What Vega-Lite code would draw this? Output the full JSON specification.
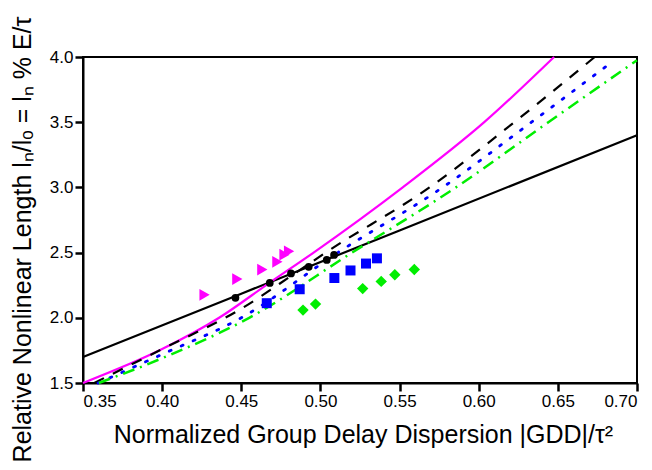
{
  "$schema": "https://vega.github.io/schema/vega-lite/v6.json",
  "width": 554,
  "height": 326,
  "autosize": "none",
  "padding": {"left": 83, "top": 57, "right": 15, "bottom": 87},
  "background": "white",
  "view": {"stroke": "black", "strokeWidth": 2},
  "config": {
    "font": "Liberation Sans",
    "axis": {
      "grid": false,
      "domainColor": "black",
      "domainWidth": 2,
      "labelColor": "black",
      "labelFont": "Liberation Sans",
      "labelFontSize": 17,
      "titleColor": "black",
      "titleFont": "Liberation Sans",
      "titleFontSize": 25,
      "titleFontWeight": "normal",
      "ticks": true,
      "tickColor": "#000000",
      "tickSize": 8,
      "tickWidth": 2.5
    }
  },
  "encoding": {
    "x": {
      "field": "x", "type": "quantitative",
      "scale": {"domain": [0.35, 0.70], "nice": false, "zero": false},
      "axis": {"tickCount": 8, "format": ".2f", "labelPadding": 2, "title": "Normalized Group Delay Dispersion |GDD|/τ²", "titlePadding": 13, "titleX": 280}
    },
    "y": {
      "field": "y", "type": "quantitative",
      "scale": {"domain": [1.5, 4.0], "nice": false, "zero": false},
      "axis": {"tickCount": 6, "format": ".1f", "labelPadding": 2, "title": "Relative Nonlinear Length lₙ/lₒ = lₙ % E/τ", "titlePadding": 14, "titleY": 182}
    }
  },
  "layer": [
    {
      "data": {"values": [
        {"x": 0.35, "y": 1.70}, {"x": 0.45, "y": 2.185}, {"x": 0.55, "y": 2.67}, {"x": 0.70, "y": 3.40}
      ]},
      "mark": {"type": "line", "color": "black", "strokeWidth": 2.2}
    },
    {
      "data": {"values": [
        {"x": 0.35, "y": 1.50}, {"x": 0.40, "y": 1.76}, {"x": 0.436, "y": 2.0}, {"x": 0.468, "y": 2.27},
        {"x": 0.4957, "y": 2.5}, {"x": 0.552, "y": 3.0}, {"x": 0.6035, "y": 3.5}, {"x": 0.6476, "y": 4.0}
      ]},
      "mark": {"type": "line", "color": "#ff00ff", "strokeWidth": 2.2, "interpolate": "monotone"}
    },
    {
      "data": {"values": [
        {"x": 0.357, "y": 1.50}, {"x": 0.40, "y": 1.76}, {"x": 0.45, "y": 2.07}, {"x": 0.4814, "y": 2.32},
        {"x": 0.5033, "y": 2.5}, {"x": 0.5689, "y": 3.0}, {"x": 0.6225, "y": 3.5}, {"x": 0.6733, "y": 4.0}
      ]},
      "mark": {"type": "line", "color": "black", "strokeWidth": 2.2, "strokeDash": [11, 10], "interpolate": "monotone"}
    },
    {
      "data": {"values": [
        {"x": 0.3595, "y": 1.50}, {"x": 0.40, "y": 1.72}, {"x": 0.45, "y": 2.0}, {"x": 0.511, "y": 2.5},
        {"x": 0.5772, "y": 3.0}, {"x": 0.6333, "y": 3.5}, {"x": 0.684, "y": 3.96}
      ]},
      "mark": {"type": "line", "color": "#0000ff", "strokeWidth": 2.8, "strokeDash": [2, 11], "strokeCap": "round", "interpolate": "monotone"}
    },
    {
      "data": {"values": [
        {"x": 0.36, "y": 1.50}, {"x": 0.40, "y": 1.69}, {"x": 0.455, "y": 2.0}, {"x": 0.52, "y": 2.5},
        {"x": 0.5856, "y": 3.0}, {"x": 0.644, "y": 3.5}, {"x": 0.70, "y": 3.975}
      ]},
      "mark": {"type": "line", "color": "#00ee00", "strokeWidth": 2.5, "strokeDash": [12, 6, 2, 6], "interpolate": "monotone"}
    },
    {
      "data": {"values": [
        {"x": 0.4268, "y": 2.176}, {"x": 0.4475, "y": 2.297}, {"x": 0.4633, "y": 2.370},
        {"x": 0.4728, "y": 2.429}, {"x": 0.4773, "y": 2.484}, {"x": 0.4802, "y": 2.510}
      ]},
      "mark": {"type": "point", "shape": "triangle-right", "filled": true, "color": "#ff00ff", "size": 140, "opacity": 1}
    },
    {
      "data": {"values": [
        {"x": 0.4661, "y": 2.112}, {"x": 0.4869, "y": 2.219}, {"x": 0.5088, "y": 2.305},
        {"x": 0.519, "y": 2.363}, {"x": 0.5288, "y": 2.416}, {"x": 0.5357, "y": 2.456}
      ]},
      "mark": {"type": "point", "shape": "square", "filled": true, "color": "#0000ff", "size": 100, "opacity": 1}
    },
    {
      "data": {"values": [
        {"x": 0.489, "y": 2.059}, {"x": 0.4969, "y": 2.105}, {"x": 0.5267, "y": 2.224},
        {"x": 0.5384, "y": 2.279}, {"x": 0.547, "y": 2.330}, {"x": 0.5593, "y": 2.370}
      ]},
      "mark": {"type": "point", "shape": "diamond", "filled": true, "color": "#00ee00", "size": 130, "opacity": 1}
    },
    {
      "data": {"values": [
        {"x": 0.4463, "y": 2.153}, {"x": 0.468, "y": 2.267}, {"x": 0.4814, "y": 2.340},
        {"x": 0.4926, "y": 2.391}, {"x": 0.504, "y": 2.444}, {"x": 0.5086, "y": 2.482}
      ]},
      "mark": {"type": "point", "shape": "circle", "filled": true, "color": "black", "size": 60, "opacity": 1}
    }
  ]
}
